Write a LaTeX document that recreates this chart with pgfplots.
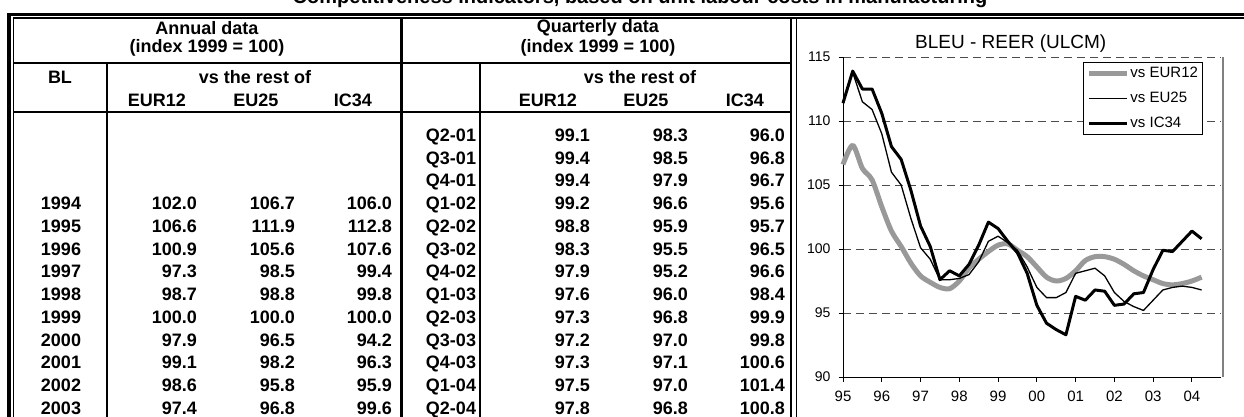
\documentclass[border=0pt]{standalone}
\usepackage{fontspec}
\setmainfont{Liberation Sans}
\usepackage{pgfplots}
\usepackage{pgfplotstable}
\pgfplotsset{compat=1.18}

\pgfplotstableread{
t eur eu ic
1995.00 106.6 111.4 111.4
1995.25 108.1 113.8 113.9
1995.50 106.3 111.5 112.5
1995.75 105.4 110.9 112.5
1996.00 103.3 109.0 110.6
1996.25 101.4 106.0 108.0
1996.50 100.2 105.0 107.0
1996.75 98.9 102.4 104.6
1997.00 97.9 100.1 101.8
1997.25 97.4 99.2 100.2
1997.50 97.0 97.6 97.6
1997.75 96.9 97.6 98.3
1998.00 97.5 97.7 97.9
1998.25 98.5 98.0 98.8
1998.50 99.2 99.0 100.3
1998.75 99.8 100.6 102.1
1999.00 100.3 101.0 101.6
1999.25 100.4 100.5 100.6
1999.50 99.9 99.9 99.7
1999.75 99.4 98.6 98.1
2000.00 98.6 97.0 95.6
2000.25 97.8 96.2 94.2
2000.50 97.5 96.2 93.7
2000.75 97.7 96.6 93.3
2001.00 98.3 98.1 96.3
2001.25 99.1 98.3 96.0
2001.50 99.4 98.5 96.8
2001.75 99.4 97.9 96.7
2002.00 99.2 96.6 95.6
2002.25 98.8 95.9 95.7
2002.50 98.3 95.5 96.5
2002.75 97.9 95.2 96.6
2003.00 97.6 96.0 98.4
2003.25 97.3 96.8 99.9
2003.50 97.2 97.0 99.8
2003.75 97.3 97.1 100.6
2004.00 97.5 97.0 101.4
2004.25 97.8 96.8 100.8
}\reer

\definecolor{eurgray}{RGB}{153,153,153}
\newcommand\tb{\fontsize{18bp}{21bp}\selectfont\bfseries}

% quarterly row: y-centre, label, three values
\newcommand\qrow[5]{%
  \node[tt,anchor=base] at (451,#1+6.4) {#2};
  \node[tt,anchor=base east] at (590,#1+6.4) {#3};
  \node[tt,anchor=base east] at (688,#1+6.4) {#4};
  \node[tt,anchor=base east] at (785,#1+6.4) {#5};}
\newcommand\arow[5]{%
  \node[tt,anchor=base] at (61,#1+6.4) {#2};
  \node[tt,anchor=base east] at (197,#1+6.4) {#3};
  \node[tt,anchor=base east] at (295,#1+6.4) {#4};
  \node[tt,anchor=base east] at (392,#1+6.4) {#5};}

\begin{document}
\begin{tikzpicture}
\useasboundingbox (0bp,0bp) rectangle (1244bp,-417bp);
\begin{scope}[x=1bp,y=-1bp,tt/.style={font=\tb,inner sep=0pt}]
% title, cut off by the top edge as in the reference
\node[anchor=base,inner sep=0pt,font=\fontsize{20bp}{24bp}\selectfont\bfseries] at (640,3.5)
  {Competitiveness indicators, based on unit labour costs in manufacturing};

% outer double border
\draw[line width=3bp] (7.5,14.3) -- (1260,14.3);
\draw[line width=1.4bp] (13.3,18) -- (1260,18);
\draw[line width=3bp] (9,12.8) -- (9,430);
\draw[line width=1.4bp] (13.3,18) -- (13.3,430);
% section lines
\draw[line width=2.5bp] (401.5,18) -- (401.5,430);
\draw[line width=2.5bp] (791,18) -- (791,430);
\draw[line width=1.4bp] (796.5,18) -- (796.5,430);
\draw[line width=2bp] (13,63) -- (791,63);
\draw[line width=2.5bp] (13,112) -- (791,112);
\draw[line width=2bp] (107,63) -- (107,430);
\draw[line width=2bp] (480,63) -- (480,430);

% headers
\node[tt] at (207,28) {Annual data};
\node[tt] at (207,48) {(index 1999 = 100)};
\node[tt] at (598,28) {Quarterly data};
\node[tt] at (598,48) {(index 1999 = 100)};
\node[tt] at (60,77) {BL};
\node[tt] at (255,77) {vs the rest of};
\node[tt] at (157,100) {EUR12};
\node[tt] at (256,100) {EU25};
\node[tt] at (353,100) {IC34};
\node[tt] at (640,77) {vs the rest of};
\node[tt] at (548,100) {EUR12};
\node[tt] at (646,100) {EU25};
\node[tt] at (745,100) {IC34};

% quarterly rows
\qrow{135.00}{Q2-01}{99.1}{98.3}{96.0}
\qrow{157.75}{Q3-01}{99.4}{98.5}{96.8}
\qrow{180.50}{Q4-01}{99.4}{97.9}{96.7}
\qrow{203.25}{Q1-02}{99.2}{96.6}{95.6}
\qrow{226.00}{Q2-02}{98.8}{95.9}{95.7}
\qrow{248.75}{Q3-02}{98.3}{95.5}{96.5}
\qrow{271.50}{Q4-02}{97.9}{95.2}{96.6}
\qrow{294.25}{Q1-03}{97.6}{96.0}{98.4}
\qrow{317.00}{Q2-03}{97.3}{96.8}{99.9}
\qrow{339.75}{Q3-03}{97.2}{97.0}{99.8}
\qrow{362.50}{Q4-03}{97.3}{97.1}{100.6}
\qrow{385.25}{Q1-04}{97.5}{97.0}{101.4}
\qrow{408.00}{Q2-04}{97.8}{96.8}{100.8}
% annual rows
\arow{203.25}{1994}{102.0}{106.7}{106.0}
\arow{226.00}{1995}{106.6}{111.9}{112.8}
\arow{248.75}{1996}{100.9}{105.6}{107.6}
\arow{271.50}{1997}{97.3}{98.5}{99.4}
\arow{294.25}{1998}{98.7}{98.8}{99.8}
\arow{317.00}{1999}{100.0}{100.0}{100.0}
\arow{339.75}{2000}{97.9}{96.5}{94.2}
\arow{362.50}{2001}{99.1}{98.2}{96.3}
\arow{385.25}{2002}{98.6}{95.8}{95.9}
\arow{408.00}{2003}{97.4}{96.8}{99.6}

% chart title
\node[inner sep=0pt,anchor=west,font=\fontsize{19bp}{22bp}\selectfont] at (915,44) {BLEU - REER (ULCM)};
\end{scope}

\begin{axis}[
  at={(843bp,-377bp)}, anchor=south west, scale only axis,
  width=378bp, height=320bp,
  xmin=1995, xmax=2004.75, ymin=90, ymax=115,
  axis x line*=bottom, axis y line*=left,
  axis line style={-, black, line width=1bp},
  xtick={1995,...,2004},
  xticklabels={95,96,97,98,99,00,01,02,03,04},
  ytick={90,95,...,115},
  ymajorgrids,
  major grid style={black!70, line width=0.8bp, dash pattern=on 8bp off 5bp},
  tick align=outside, major tick length=4.5bp,
  tick style={black, line width=0.8bp},
  xticklabel style={font=\fontsize{15bp}{17bp}\selectfont, yshift=-6bp},
  yticklabel style={font=\fontsize{14bp}{16bp}\selectfont, xshift=-4.5bp},
  /pgf/number format/assume math mode=true,
  clip=false,
  legend style={at={(rel axis cs:0.635,0.984)}, anchor=north west,
    draw=black, line width=0.8bp, fill=white,
    font=\fontsize{15bp}{17bp}\selectfont,
    inner xsep=3bp, inner ysep=3.5bp, row sep=10bp,
    nodes={inner sep=1bp, text height=10bp, text depth=3bp}},
  legend cell align=left,
  legend image code/.code={\draw[#1] (0bp,0bp) -- (38bp,0bp);},
]
\draw[black!50, line width=2bp] (rel axis cs:1.005,0) -- (rel axis cs:1.005,1);
\addplot[eurgray, line width=5bp, smooth, line join=round] table[x=t,y=eur] {\reer};
\addlegendentry{vs EUR12}
\addplot[black, line width=1.3bp, line join=round] table[x=t,y=eu] {\reer};
\addlegendentry{vs EU25}
\addplot[black, line width=3bp, line join=round] table[x=t,y=ic] {\reer};
\addlegendentry{vs IC34}
\end{axis}
\end{tikzpicture}
\end{document}
